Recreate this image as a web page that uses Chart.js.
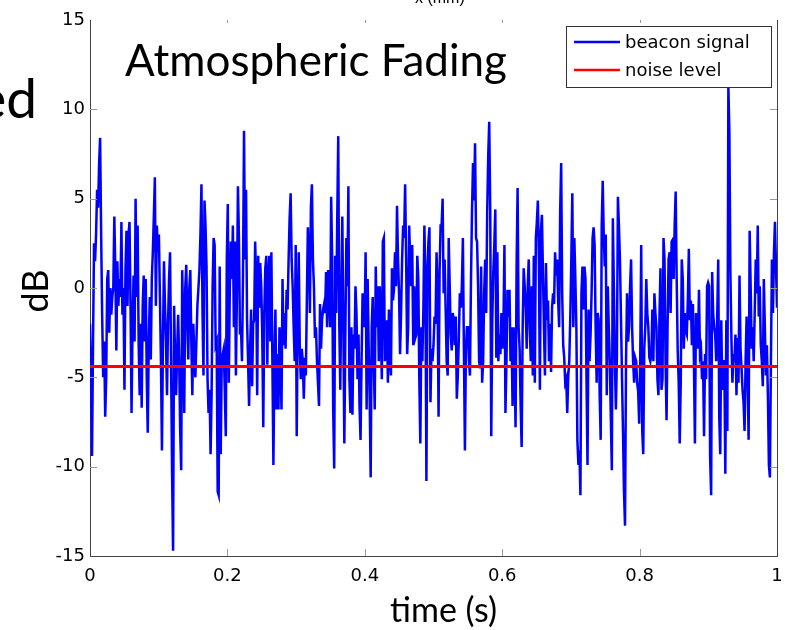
<!DOCTYPE html>
<html>
<head>
<meta charset="utf-8">
<title>Atmospheric Fading</title>
<script src="https://cdn.jsdelivr.net/npm/chart.js@4.4.1/dist/chart.umd.min.js"></script>
<style>
  html, body { margin: 0; background: #fff; overflow: hidden; }
  #wrap { position: relative; width: 785px; height: 630px; overflow: hidden; }
  #fadeChart { display: block; }
  .lbl { position: absolute; font-family: Lato, "Open Sans", sans-serif; color: #000; white-space: nowrap; line-height: 1; }
</style>
</head>
<body>
<div id="wrap">
  <canvas id="fadeChart" width="785" height="630"></canvas>
  <div class="lbl" style="left:415px; top:-10px; font-family:'Liberation Sans'; font-size:16px;">x (mm)</div>
  <div class="lbl" style="right:748px; top:70px; font-size:55px;">ed</div>
  <div class="lbl" style="left:125px; top:37px; font-size:44px;">Atmospheric Fading</div>
  <div class="lbl" style="left:34px; top:291px; font-size:36px; transform: translate(-50%, -50%) rotate(-90deg);">dB</div>
  <div class="lbl" style="left:390px; top:592px; font-size:34px;">time (s)</div>
</div>

<script>
// beacon signal (dB) in six stretches from t=0 to t=1
const seg1 = [-2, -5, -9.4, -3, 2.5, 1.5, 3, 5.5, 4.5, 7, 8.4, 3, -1.5, -5, -3, -7.2, -5, 0.5, 1, -2.5,
  0, -1.5, -0.5, 0, 4, 1, -3.5, 1.5, -1, 0.5, -0.5, 3.7, -1.5, 0, -5.7, 1, 3.2, -1, 3, 3.7,
  -1, -7, -2, 0.7, -3, 5, -0.5, 3.5, -3, -6, -2, -6.7, -1, 0.7, -3, 0.5, -5, -8.1, -3, -0.5,
  -4, 0.5, 2, 4, 6.2, -1, 3.5, 2, 3, -0.5, -4, -9.1, -3, 1.5, -1, -3, -6, -2, 0.5, 2,
  -4, -10.4, -14.7, -1, -4, -6, -3.5, -1.5, -4, -8, -10.2, 1, -2, -7, 0, 1.3, -2, -4, 0, 1,
  -3, -6, -2, -4, -5, -3, -1, 0, 1, 3];
const seg2 = [5.8, -1.2, -4.9, 4.9, 3.5, 1.2, -5.1, -7.0, -5.7, -9.3, -6.0, 0.1, 2.8, 2.4, -3.2, -3.0, -11.4, -11.6, 1.2, -9.3,
  -4.1, -3.7, -3.4, -5.7, -8.3, 1.6, 4.7, -5.3, 0.1, 2.6, 0.5, 3.5, -2.2, 2.6, -4.9, -0.3, 5.7, 2.8, -2.6, -2.2,
  -4.1, 0.7, 8.8, 1.6, 5.5, -1.8, -4.1, -6.6, -3.4, -1.2, -5.5, -2.0, -1.8, 2.6, 0.3, -6.0, 1.8, -1.1, 1.4, 0.1,
  -2.6, -7.8, -1.4, 1.1, 1.8, -4.3, 0.5, 1.8, -3.0, 2.0, -4.1, -9.9, -4.1, -1.2, -6.8, -3.7, -6.8, -2.2, -4.1, -6.8,
  0.5, -3.2, -1.4, -3.4, -0.1, -1.2, 1.6, 3.9, 5.3, 1.6, 0.1, -2.2, -4.1, 2.4, -8.3, -1.8, 2.0, -3.2, -5.1, -3.4,
  -4.1, -6.2, -3.9, -4.9, -0.7, 3.4, 2.0, -1.4, 4.5, 5.8];
const seg3 = [1.6, 0.1, -2.8, -2.2, -4.1, -5.3, -6.6, -0.9, -3.4, -1.8, -1.2, -0.9, -1.4, 0.9, -2.2, 1.0, -0.3, -2.2, 5.1, 1.6,
  -6.8, -10.1, 1.8, -1.4, 3.9, 8.5, -2.0, -5.7, -0.3, 4.0, -1.8, -8.7, -2.6, 2.8, 0.1, 5.7, -5.1, -7.0, -2.2, -7.1,
  -2.6, -3.4, 0.1, -1.4, -5.1, -2.6, -6.6, -8.5, -4.1, -0.3, -1.1, -2.2, 2.0, -6.8, 0.5, -3.2, -6.2, -10.6, -2.2, -0.5,
  -4.1, -6.8, 1.2, -2.2, 0.1, -4.1, 0.1, -2.2, -5.1, 2.6, 2.8, -4.1, -3.4, -1.8, -5.3, -1.2, -3.9, -4.9, 1.1, -0.7,
  -0.1, 2.0, 0.1, 4.6, 1.6, -0.3, -3.7, -1.4, 1.6, 3.5, 2.8, 5.8, 1.6, -3.7, -2.2, 3.5, 1.6, 0.1, 2.4, -3.2,
  0.1, -2.8, -2.6, 1.8, 0.5, -5.1, -8.7, -2.2, -4.1, -1.2, 3.5, 0.5, -10.8];
const seg4 = [0.9, 2.6, 3.4, -6.4, -3.4, -4.1, -3.2, -1.6, -2.0, 2.0, -0.3, -7.2, 0.9, 3.5, 3.5, 5.0, -0.3, 1.6, -1.2, -4.1,
  -4.9, 2.8, 0.1, -2.6, -3.5, -1.4, -1.8, -3.2, -1.6, -6.2, -4.9, -2.8, -0.3, -1.1, 0.1, 2.8, -3.4, -9.1, -3.4, -2.2,
  -2.2, -4.1, -4.9, 0.5, 4.3, 7.0, 4.9, 8.1, 2.8, 2.6, 0.1, -4.1, -4.5, 1.2, -5.3, -4.1, -0.3, 1.6, -1.4, 4.3,
  7.4, 9.3, 4.3, -8.3, -1.8, 0.9, 2.4, 4.4, -3.9, 2.0, -4.1, -2.6, -3.7, -1.4, -3.4, -2.2, 2.4, -7.0, -4.1, -0.1,
  -1.6, -0.1, -4.1, -2.2, -6.6, -2.2, -4.1, -7.8, 1.2, 5.6, -2.2, -3.4, -6.6, -8.9, -2.2, 1.1, 0.1, -1.1, -3.4, 0.1,
  1.6, -2.2, -4.1, 0.1, -4.9, 1.8, -5.3, 2.8, 3.7, 4.9, 1.6, -5.7, 3.2, 4.1, 0.9];
const seg5 = [-2.2, -4.9, 1.4, -1.8, -0.7, -4.1, -2.0, -4.7, -1.1, -0.3, -0.9, 2.0, 0.7, 1.6, -0.7, -2.2, 4.3, 7.0, -0.3, -3.2,
  -3.9, -5.3, -5.1, -7.0, -4.9, -4.1, -1.6, 1.6, 5.3, -2.2, 2.8, 0.5, -2.2, -8.5, -9.9, -9.1, -11.6, -0.3, 1.2, -1.2,
  1.2, 0.5, -5.1, -9.9, -1.2, -4.1, -2.6, -0.3, 2.8, 3.4, 2.4, -2.2, -5.3, -1.4, -1.8, -6.0, -8.5, 3.5, 6.0, 3.0,
  1.2, 3.0, -6.0, 0.1, -2.2, -4.1, -7.2, -10.2, 3.9, 0.1, -4.1, -6.8, -3.9, 5.1, 3.5, 1.6, -1.6, -4.9, -8.0, -11.4,
  -13.3, -4.1, -0.3, -3.0, -2.2, 0.1, 1.6, -2.2, -4.1, -5.3, -3.9, -4.1, -5.3, -5.8, -7.6, -4.1, 2.4, -8.0, -9.3, -3.4,
  -2.2, 0.5, -1.4, -2.2, -3.9, -4.1, -3.7, -1.2, -4.1, -0.3, -1.4, -2.2, -5.1, -6.0];
const seg6 = [-1.6, 1.1, -5.7, -5.1, 2.8, 1.6, -4.1, -7.4, -2.2, 1.6, 2.0, -1.4, 2.6, 2.7, 0.5, 3.5, 5.4, 0.5, -3.5, -5.3,
  -8.7, -5.3, 1.6, 0.5, -3.4, -1.4, -2.4, -2.6, -0.7, 2.2, -1.8, -0.7, -3.2, -0.9, -4.1, -8.7, -1.4, -2.0, -3.4, -0.1,
  -3.7, -3.4, -5.1, -4.1, -8.3, -3.7, -5.1, 0.1, 0.3, 0.1, -9.5, -11.6, 0.9, -1.4, -2.2, -2.6, -4.1, -1.6, 1.6, -7.2,
  -9.3, -1.8, -5.7, -4.1, -4.1, -10.4, -1.8, -8.0, 11.3, 8.7, 0.9, -2.8, -5.3, -3.7, -4.1, -2.6, -6.0, -2.8, -5.3, 0.7,
  -3.4, -4.5, -5.7, -6.4, -8.0, -4.1, -1.6, -5.1, -8.5, 3.2, 0.1, -3.4, -2.2, -4.1, -1.4, 1.6, -0.3, 3.5, -1.6, 0.1,
  -3.2, -4.1, -5.5, 0.5, -2.2, -4.9, -3.2, -6.0, -9.9, -10.6, -4.1, 1.6, -1.4, 2.0, 3.7, 1.2, -1.1];

const beacon = [].concat(seg1, seg2, seg3, seg4, seg5, seg6);
const noiseLevel = -4.4;
const timeRange = [0, 1];
const xTicks = [0, 0.2, 0.4, 0.6, 0.8, 1];
const yTicks = [-15, -10, -5, 0, 5, 10, 15];

// samples are evenly spaced over the 1 s record
const beaconPts = beacon.map((v, i) => ({ x: timeRange[0] + (timeRange[1] - timeRange[0]) * i / (beacon.length - 1), y: v }));
const noisePts = timeRange.map(t => ({ x: t, y: noiseLevel }));

// box edge on the right, and short inward ticks on every side, like matlab
const frame = {
  id: 'frame',
  afterDatasetsDraw(chart) {
    const { ctx, chartArea: a, scales: { x, y } } = chart;
    ctx.save();
    ctx.strokeStyle = '#444';
    ctx.lineWidth = 1;
    ctx.beginPath();
    ctx.moveTo(a.right + 0.5, a.top);
    ctx.lineTo(a.right + 0.5, a.bottom);
    ctx.stroke();
    ctx.strokeStyle = '#999';
    ctx.beginPath();
    xTicks.slice(1, -1).forEach(t => {
      const px = Math.round(x.getPixelForValue(t)) + 0.5;
      ctx.moveTo(px, a.bottom); ctx.lineTo(px, a.bottom - 7);
      ctx.moveTo(px, a.top); ctx.lineTo(px, a.top + 3);
    });
    yTicks.slice(1, -1).forEach(v => {
      const py = Math.round(y.getPixelForValue(v)) + 0.5;
      ctx.moveTo(a.left, py); ctx.lineTo(a.left + 7, py);
      ctx.moveTo(a.right, py); ctx.lineTo(a.right - 7, py);
    });
    ctx.stroke();
    ctx.restore();
  }
};

const legendBox = {
  id: 'legendBox',
  afterDraw(chart) {
    const { ctx, chartArea: a } = chart;
    const x0 = a.right - 211, y0 = a.top + 6, w = 205, h = 61;
    ctx.save();
    ctx.fillStyle = '#fff';
    ctx.fillRect(x0, y0, w, h);
    ctx.strokeStyle = '#333';
    ctx.lineWidth = 1;
    ctx.strokeRect(x0 + 0.5, y0 + 0.5, w, h);
    ctx.font = '18px "DejaVu Sans"';
    ctx.textBaseline = 'middle';
    chart.data.datasets.forEach((ds, i) => {
      const yy = y0 + 16 + i * 28;
      ctx.strokeStyle = ds.borderColor;
      ctx.lineWidth = 2.5;
      ctx.beginPath();
      ctx.moveTo(x0 + 8, yy);
      ctx.lineTo(x0 + 54, yy);
      ctx.stroke();
      ctx.fillStyle = '#000';
      ctx.fillText(ds.label, x0 + 59, yy + 1);
    });
    ctx.restore();
  }
};

const tickFont = { family: 'DejaVu Sans', size: 18 };

new Chart(document.getElementById('fadeChart'), {
  type: 'line',
  data: {
    datasets: [
      { label: 'beacon signal', data: beaconPts, borderColor: '#0000ff', borderWidth: 2.5, pointRadius: 0, tension: 0, order: 1 },
      { label: 'noise level', data: noisePts, borderColor: '#ff0000', borderWidth: 3, pointRadius: 0, order: 0 }
    ]
  },
  options: {
    responsive: false,
    animation: false,
    layout: { autoPadding: false, padding: { top: 20, right: 8, left: 0, bottom: 0 } },
    plugins: { legend: { display: false }, tooltip: { enabled: false } },
    scales: {
      x: {
        type: 'linear', min: 0, max: 1,
        afterFit(s) { s.height = 74; s.paddingLeft = 0; s.paddingRight = 0; },
        afterBuildTicks(s) { s.ticks = xTicks.map(v => ({ value: v })); },
        grid: { display: false, drawTicks: false },
        border: { display: true, color: '#444', width: 1 },
        ticks: { color: '#000', font: tickFont, padding: 10, maxRotation: 0, callback: v => String(v) }
      },
      y: {
        min: -15, max: 15,
        afterFit(s) { s.width = 90; s.paddingTop = 0; s.paddingBottom = 0; },
        afterBuildTicks(s) { s.ticks = yTicks.map(v => ({ value: v })); },
        grid: { display: false, drawTicks: false },
        border: { display: true, color: '#444', width: 1 },
        ticks: { color: '#000', font: tickFont, padding: 5, callback: v => String(v) }
      }
    }
  },
  plugins: [frame, legendBox]
});
</script>
</body>
</html>
